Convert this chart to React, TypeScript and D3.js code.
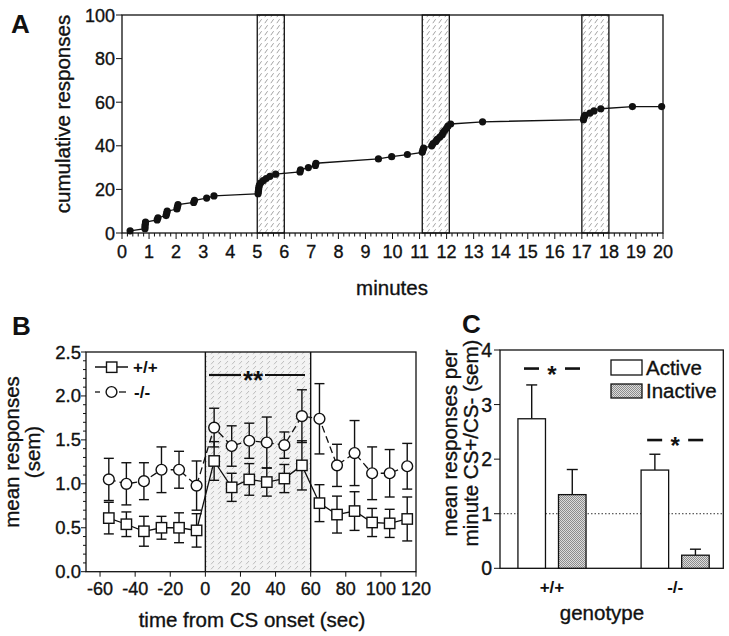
import React from 'react';
import * as d3 from 'd3';

const FONT = "'Liberation Sans', Arial, Helvetica, sans-serif";

// ---------- Panel A data ----------
const A_TIME = [0.3, 0.85, 0.85, 0.86, 0.87, 1.3, 1.33, 1.63, 1.65, 1.67, 2.03, 2.05, 2.07, 2.65, 2.68, 3.13, 3.4,
  5.03, 5.04, 5.05, 5.06, 5.08, 5.13, 5.22, 5.33, 5.47, 5.68, 6.58, 6.6, 6.89, 7.15, 7.17, 9.48, 9.97, 10.55,
  11.1, 11.12, 11.15, 11.45, 11.5, 11.6, 11.65, 11.75, 11.83, 11.87, 11.93, 12.0, 12.05, 12.15, 13.33,
  17.06, 17.08, 17.12, 17.3, 17.45, 17.7, 18.87, 19.95];
const A_COUNT = [1, 2, 3, 4, 5, 6, 7, 8, 9, 10, 11, 12, 13, 14, 15, 16, 17,
  18, 19, 20, 21, 22, 23, 24, 25, 26, 27, 28, 29, 30, 31, 32, 34, 35, 36,
  37, 38, 39, 40, 41, 42, 43, 44, 45, 46, 47, 48, 49, 50, 51,
  52, 53, 54, 55, 56, 57, 58, 58];
const A_CS_ON = [5, 11.1, 17];
const A_CS_OFF = [6, 12.1, 18];
const A_XTICKS = [0, 1, 2, 3, 4, 5, 6, 7, 8, 9, 10, 11, 12, 13, 14, 15, 16, 17, 18, 19, 20];
const A_YTICKS = [0, 20, 40, 60, 80, 100];

// ---------- Panel B data ----------
const B_TIME = [-55, -45, -35, -25, -15, -5, 5, 15, 25, 35, 45, 55, 65, 75, 85, 95, 105, 115];
const B_WT_MEAN = [0.61, 0.54, 0.46, 0.50, 0.50, 0.47, 1.26, 0.96, 1.05, 1.02, 1.06, 1.21, 0.78, 0.65, 0.69, 0.56, 0.55, 0.60];
const B_WT_SEM = [0.18, 0.14, 0.17, 0.13, 0.17, 0.19, 0.22, 0.16, 0.18, 0.16, 0.16, 0.28, 0.21, 0.21, 0.22, 0.16, 0.16, 0.25];
const B_KO_MEAN = [1.05, 1.00, 1.03, 1.16, 1.16, 0.98, 1.64, 1.43, 1.49, 1.47, 1.44, 1.77, 1.74, 1.21, 1.35, 1.12, 1.12, 1.20];
const B_KO_SEM = [0.24, 0.24, 0.21, 0.26, 0.21, 0.28, 0.22, 0.23, 0.20, 0.29, 0.15, 0.30, 0.40, 0.24, 0.37, 0.30, 0.27, 0.26];
const B_XTICKS = [-60, -40, -20, 0, 20, 40, 60, 80, 100, 120];
const B_YTICKS = [0, 0.5, 1.0, 1.5, 2.0, 2.5];
const B_CS = [0, 60];
const B_LEGEND = ['+/+', '-/-'];

// ---------- Panel C data ----------
const C_GENO = ['+/+', '-/-'];
const C_LEVER = ['Active', 'Inactive'];
const C_ACTIVE_MEAN = [2.74, 1.80];
const C_ACTIVE_SEM = [0.62, 0.29];
const C_INACTIVE_MEAN = [1.35, 0.24];
const C_INACTIVE_SEM = [0.46, 0.11];
const C_YTICKS = [0, 1, 2, 3, 4];
const C_SIG_Y = [3.66, 2.35];

export default function App() {
  React.useEffect(() => {
    document.body.style.margin = '0';
  }, []);

  // ----- scales A -----
  const xA = d3.scaleLinear().domain([0, 20]).range([122, 663]);
  const yA = d3.scaleLinear().domain([0, 100]).range([233, 15]);
  const lineA = d3.line<number>().x((_, i) => xA(A_TIME[i])).y((d) => yA(d));
  const aMinor = d3.range(0, 20.001, 0.2);

  // ----- scales B -----
  const xB = d3.scaleLinear().domain([-68, 120]).range([86, 416]);
  const yB = d3.scaleLinear().domain([0, 2.5]).range([571.7, 352]);
  const bMinor = d3.range(0, 2.5001, 0.1);
  const lineWT = d3.line<number>().x((_, i) => xB(B_TIME[i])).y((d) => yB(d));
  const lineKO = d3.line<number>().x((_, i) => xB(B_TIME[i])).y((d) => yB(d));

  // ----- scales C -----
  const xC = d3.scaleBand<string>().domain(C_GENO).range([500, 723.3]).paddingInner(0.447).paddingOuter(0.13).align(0.56);
  const xCi = d3.scaleBand<string>().domain(C_LEVER).range([0, xC.bandwidth()]).paddingInner(0.321);
  const yC = d3.scaleLinear().domain([0, 4]).range([568.3, 350]);

  const bw = xCi.bandwidth();
  const barsC: { g: string; lever: string; v: number; s: number }[] = [];
  C_GENO.forEach((g, i) => {
    barsC.push({ g, lever: 'Active', v: C_ACTIVE_MEAN[i], s: C_ACTIVE_SEM[i] });
    barsC.push({ g, lever: 'Inactive', v: C_INACTIVE_MEAN[i], s: C_INACTIVE_SEM[i] });
  });

  const txt = { fontFamily: FONT, fill: '#111', stroke: '#111', strokeWidth: 0.35 } as const;
  const bold = { fontFamily: FONT, fill: '#111', fontWeight: 'bold' } as const;

  return (
    <svg width={729} height={636} style={{ position: 'absolute', left: 0, top: 0, background: '#fff' }}>
      <defs>
        <pattern id="hatchA" width={6} height={6} patternUnits="userSpaceOnUse">
          <rect width={6} height={6} fill="#fff" />
          <path d="M0.8,5.2 L3.6,1.2" stroke="#8a8a8a" strokeWidth={0.8} />
        </pattern>
        <pattern id="hatchB" width={7} height={5} patternUnits="userSpaceOnUse">
          <rect width={7} height={5} fill="#f3f3f3" />
          <path d="M1,4.3 L4,1" stroke="#b0b0b0" strokeWidth={0.8} />
        </pattern>
        <pattern id="dots" width={2} height={2} patternUnits="userSpaceOnUse">
          <rect width={2} height={2} fill="#dcdcdc" />
          <rect x={0} y={0} width={1} height={1} fill="#8c8c8c" />
          <rect x={1} y={1} width={1} height={1} fill="#8c8c8c" />
        </pattern>
      </defs>

      {/* ================= Panel A ================= */}
      <text x={11} y={33} style={{ ...bold, fontSize: 26 }}>A</text>
      {A_CS_ON.map((s, i) => (
        <g key={'band' + i}>
          <rect x={xA(s)} y={yA(100)} width={xA(A_CS_OFF[i]) - xA(s)} height={yA(0) - yA(100)} fill="url(#hatchA)" stroke="#111" strokeWidth={1.3} />
        </g>
      ))}
      <rect x={xA(0)} y={yA(100)} width={xA(20) - xA(0)} height={yA(0) - yA(100)} fill="none" stroke="#111" strokeWidth={1.3} />
      {aMinor.map((t, i) => (
        <line key={'am' + i} x1={xA(t)} x2={xA(t)} y1={yA(0)} y2={yA(0) + (Math.abs(t - Math.round(t)) < 1e-6 ? 6 : 3.5)} stroke="#111" strokeWidth={1} />
      ))}
      {A_XTICKS.map((t) => (
        <text key={'axt' + t} x={xA(t)} y={258} textAnchor="middle" style={{ ...txt, fontSize: 18 }}>{t}</text>
      ))}
      {A_YTICKS.map((t) => (
        <g key={'ayt' + t}>
          <line x1={xA(0) - 6} x2={xA(0)} y1={yA(t)} y2={yA(t)} stroke="#111" strokeWidth={1} />
          <text x={115} y={yA(t) + 6.5} textAnchor="end" style={{ ...txt, fontSize: 18 }}>{t}</text>
        </g>
      ))}
      <path d={lineA(A_COUNT) || ''} fill="none" stroke="#111" strokeWidth={1.3} />
      {A_COUNT.map((c, i) => (
        <circle key={'ap' + i} cx={xA(A_TIME[i])} cy={yA(c)} r={3.6} fill="#111" />
      ))}
      <text transform="translate(70,114) rotate(-90)" textAnchor="middle" style={{ ...txt, fontSize: 20.5 }}>cumulative responses</text>
      <text x={392} y={295} textAnchor="middle" style={{ ...txt, fontSize: 20.5 }}>minutes</text>

      {/* ================= Panel B ================= */}
      <text x={12} y={335} style={{ ...bold, fontSize: 26 }}>B</text>
      <rect x={xB(B_CS[0])} y={yB(2.5)} width={xB(B_CS[1]) - xB(B_CS[0])} height={yB(0) - yB(2.5)} fill="url(#hatchB)" />
      <rect x={xB(-68)} y={yB(2.5)} width={xB(120) - xB(-68)} height={yB(0) - yB(2.5)} fill="none" stroke="#111" strokeWidth={1.3} />
      {B_CS.map((c) => (
        <line key={'bcs' + c} x1={xB(c)} x2={xB(c)} y1={yB(2.5)} y2={yB(0)} stroke="#111" strokeWidth={1.4} />
      ))}
      {B_XTICKS.map((t) => (
        <g key={'bxt' + t}>
          <line x1={xB(t)} x2={xB(t)} y1={yB(0)} y2={yB(0) + 5} stroke="#111" strokeWidth={1} />
          <text x={xB(t)} y={595} textAnchor="middle" style={{ ...txt, fontSize: 18 }}>{t}</text>
        </g>
      ))}
      {bMinor.map((t, i) => (
        <line key={'bym' + i} x1={xB(-68) - (i % 5 === 0 ? 5 : 3)} x2={xB(-68)} y1={yB(t)} y2={yB(t)} stroke="#111" strokeWidth={1} />
      ))}
      {B_YTICKS.map((t) => (
        <text key={'byt' + t} x={81} y={yB(t) + 6.5} textAnchor="end" style={{ ...txt, fontSize: 18.5 }}>{t.toFixed(1)}</text>
      ))}
      {/* significance bar */}
      <line x1={209} x2={241} y1={375} y2={375} stroke="#111" strokeWidth={2.2} />
      <line x1={265} x2={305} y1={375} y2={375} stroke="#111" strokeWidth={2.2} />
      <text x={253} y={389} textAnchor="middle" style={{ ...bold, fontSize: 26 }}>**</text>

      {/* lines */}
      <path d={lineKO(B_KO_MEAN) || ''} fill="none" stroke="#111" strokeWidth={1.3} strokeDasharray="7,4" />
      <path d={lineWT(B_WT_MEAN) || ''} fill="none" stroke="#111" strokeWidth={1.3} />
      {/* error bars */}
      {B_TIME.map((t, i) => {
        const x = xB(t);
        const bars = [
          [B_KO_MEAN[i], B_KO_SEM[i]],
          [B_WT_MEAN[i], B_WT_SEM[i]],
        ];
        return (
          <g key={'be' + i}>
            {bars.map(([m, s], j) => (
              <g key={j}>
                <line x1={x} x2={x} y1={yB(m - s)} y2={yB(m + s)} stroke="#111" strokeWidth={1.4} />
                <line x1={x - 5} x2={x + 5} y1={yB(m - s)} y2={yB(m - s)} stroke="#111" strokeWidth={1.4} />
                <line x1={x - 5} x2={x + 5} y1={yB(m + s)} y2={yB(m + s)} stroke="#111" strokeWidth={1.4} />
              </g>
            ))}
          </g>
        );
      })}
      {B_TIME.map((t, i) => (
        <g key={'bm' + i}>
          <circle cx={xB(t)} cy={yB(B_KO_MEAN[i])} r={5.4} fill="#fff" stroke="#111" strokeWidth={1.4} />
          <rect x={xB(t) - 5.2} y={yB(B_WT_MEAN[i]) - 5.2} width={10.4} height={10.4} fill="#fff" stroke="#111" strokeWidth={1.4} />
        </g>
      ))}
      {/* legend */}
      <line x1={95} x2={128} y1={367} y2={367} stroke="#111" strokeWidth={1.3} />
      <rect x={106.5} y={362} width={10.4} height={10.4} fill="#fff" stroke="#111" strokeWidth={1.4} />
      <text x={133} y={373} style={{ ...bold, fontSize: 17 }}>{B_LEGEND[0]}</text>
      <line x1={95} x2={100} y1={392} y2={392} stroke="#111" strokeWidth={1.3} />
      <line x1={119} x2={126} y1={392} y2={392} stroke="#111" strokeWidth={1.3} />
      <circle cx={111.5} cy={392} r={5.4} fill="#fff" stroke="#111" strokeWidth={1.4} />
      <text x={134} y={398} style={{ ...bold, fontSize: 17 }}>{B_LEGEND[1]}</text>

      <text transform="translate(19,452) rotate(-90)" textAnchor="middle" style={{ ...txt, fontSize: 20.5 }}>mean responses</text>
      <text transform="translate(40,452) rotate(-90)" textAnchor="middle" style={{ ...txt, fontSize: 20.5 }}>(sem)</text>
      <text x={252} y={627} textAnchor="middle" style={{ ...txt, fontSize: 20.5 }}>time from CS onset (sec)</text>

      {/* ================= Panel C ================= */}
      <text x={462} y={333} style={{ ...bold, fontSize: 26 }}>C</text>
      <rect x={500} y={yC(4)} width={223.3} height={yC(0) - yC(4)} fill="none" stroke="#111" strokeWidth={1.3} />
      <line x1={500} x2={723.3} y1={yC(1)} y2={yC(1)} stroke="#333" strokeWidth={1} strokeDasharray="1.5,2" />
      {C_YTICKS.map((t) => (
        <g key={'cyt' + t}>
          <line x1={494} x2={500} y1={yC(t)} y2={yC(t)} stroke="#111" strokeWidth={1} />
          <text x={492} y={yC(t) + 7} textAnchor="end" style={{ ...txt, fontSize: 19.5 }}>{t}</text>
        </g>
      ))}
      {barsC.map((b, i) => {
        const x = (xC(b.g) || 0) + (xCi(b.lever) || 0);
        const cx = x + bw / 2;
        return (
          <g key={'cb' + i}>
            <line x1={cx} x2={cx} y1={yC(b.v)} y2={yC(b.v + b.s)} stroke="#111" strokeWidth={1.4} />
            <line x1={cx - 5.5} x2={cx + 5.5} y1={yC(b.v + b.s)} y2={yC(b.v + b.s)} stroke="#111" strokeWidth={1.4} />
            <rect x={x} y={yC(b.v)} width={bw} height={yC(0) - yC(b.v)} fill={b.lever === 'Active' ? '#fff' : 'url(#dots)'} stroke="#111" strokeWidth={1.3} />
          </g>
        );
      })}
      {C_GENO.map((g, i) => {
        const c = (xC(g) || 0) + xC.bandwidth() / 2;
        const y = yC(C_SIG_Y[i]);
        return (
          <g key={'sig' + i}>
            <line x1={c - 28} x2={c - 13} y1={y} y2={y} stroke="#111" strokeWidth={2.6} />
            <line x1={c + 13} x2={c + 28} y1={y} y2={y} stroke="#111" strokeWidth={2.6} />
            <text x={c} y={y + 14} textAnchor="middle" style={{ ...bold, fontSize: 24 }}>*</text>
            <text x={c} y={593} textAnchor="middle" style={{ ...bold, fontSize: 17 }}>{g}</text>
          </g>
        );
      })}
      {/* legend */}
      <rect x={611} y={360} width={31} height={15} fill="#fff" stroke="#111" strokeWidth={1.3} />
      <text x={646} y={375} style={{ ...txt, fontSize: 20.5 }}>{C_LEVER[0]}</text>
      <rect x={611} y={384} width={31} height={14} fill="url(#dots)" stroke="#111" strokeWidth={1.3} />
      <text x={646} y={398} style={{ ...txt, fontSize: 20.5 }}>{C_LEVER[1]}</text>

      <text transform="translate(457,443) rotate(-90)" textAnchor="middle" style={{ ...txt, fontSize: 20.5 }}>mean responses per</text>
      <text transform="translate(478,443) rotate(-90)" textAnchor="middle" style={{ ...txt, fontSize: 20.5 }}>minute CS+/CS- (sem)</text>
      <text x={602} y={620} textAnchor="middle" style={{ ...txt, fontSize: 20.5 }}>genotype</text>
    </svg>
  );
}
